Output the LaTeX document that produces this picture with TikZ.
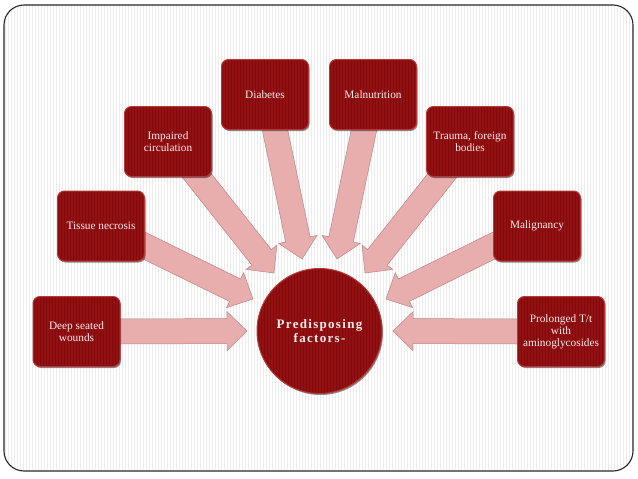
\documentclass[tikz,border=0pt]{standalone}
\usepackage{fontspec}
\setmainfont{Liberation Serif}
\usetikzlibrary{calc,shadows}
\definecolor{boxred}{RGB}{146,16,18}
\definecolor{boxedge}{RGB}{182,56,56}
\definecolor{stripe}{RGB}{128,10,12}
\definecolor{arrowpink}{RGB}{232,174,174}
\definecolor{arrowedge}{RGB}{188,132,132}
\definecolor{labeltext}{RGB}{252,236,236}
\definecolor{bgstripe}{RGB}{236,236,236}
\definecolor{framecol}{RGB}{40,40,40}
\pgfdeclarelayer{bglayer}
\pgfdeclarelayer{arrowlayer}
\pgfsetlayers{bglayer,arrowlayer,main}
\newcommand\fatarrow[2]{%
  \coordinate (fa-t) at ($(#1)!-14pt!(#2)$);
  \coordinate (fa-h) at ($(#2)!20pt!(#1)$);
  \filldraw[fatarrowstyle]
    ($(fa-t)!12.5pt!90:(#2)$) -- ($(fa-h)!12.5pt!-90:(fa-t)$) --
    ($(fa-h)!19.5pt!-90:(fa-t)$) -- (#2) -- ($(fa-h)!19.5pt!90:(fa-t)$) --
    ($(fa-h)!12.5pt!90:(fa-t)$) -- ($(fa-t)!12.5pt!-90:(#2)$) -- cycle;}
\begin{document}
\begin{tikzpicture}[x=1pt,y=-1pt,
  stripes/.style={path picture={\foreach \k in {1,4,...,130}
      \draw[stripe, line width=0.7pt] ($(path picture bounding box.north west)+(\k,0)$) -- ($(path picture bounding box.south west)+(\k,0)$);}},
  factor/.style={draw=boxedge, line width=1pt, fill=boxred, rounded corners=7pt,
    minimum width=87pt, minimum height=70pt, inner sep=2pt, align=center,
    text=labeltext, font=\fontsize{11.3}{12}\selectfont, stripes,
    drop shadow={shadow xshift=1pt, shadow yshift=-1.5pt, opacity=.45, fill=black}},
  hubnode/.style={circle, draw=boxedge, line width=1pt, fill=boxred, minimum size=125pt,
    inner sep=0pt, align=center, text=labeltext, stripes,
    font=\fontsize{13}{14}\selectfont\bfseries\addfontfeatures{LetterSpace=10},
    drop shadow={shadow xshift=1pt, shadow yshift=-1.5pt, opacity=.45, fill=black}},
  fatarrowstyle/.style={fill=arrowpink, draw=arrowedge, line width=0.5pt, line join=miter}]
\useasboundingbox (0,0) rectangle (638,479);
\begin{pgfonlayer}{bglayer}
  \fill[white] (0,0) rectangle (638,479);
  \begin{scope}
    \clip[rounded corners=20pt] (4,5) rectangle (633,471);
    \foreach \x in {5,8,...,633} \draw[bgstripe, line width=0.6pt] (\x,5) -- (\x,471);
  \end{scope}
\end{pgfonlayer}
\draw[framecol, line width=1.1pt, rounded corners=20pt] (4,5) rectangle (633,471);

\node[hubnode] (hub) at (319.5,331) {Predisposing\\factors-};
\node[factor] (deep) at (76.5,331.5) {Deep seated\\wounds};
\node[factor] (tissue) at (101,226) {Tissue necrosis};
\node[factor] (impaired) at (168,141.5) {Impaired\\circulation};
\node[factor] (diabetes) at (265,94.5) {Diabetes};
\node[factor] (malnut) at (373,94.5) {Malnutrition};
\node[factor] (trauma) at (470,141.5) {Trauma, foreign\\bodies};
\node[factor] (malig) at (537,226) {Malignancy};
\node[factor] (prolonged) at (561,331.5) {Prolonged T/t\\with\\aminoglycosides};

\coordinate (deep-t) at (deep.east);
\coordinate (tissue-t) at ($(tissue.east)+(0,20)$);
\coordinate (impaired-t) at ($(impaired.south)+(30,0)$);
\coordinate (diabetes-t) at ($(diabetes.south)+(10,0)$);
\coordinate (malnut-t) at ($(malnut.south)+(-9,0)$);
\coordinate (trauma-t) at ($(trauma.south)+(-29,0)$);
\coordinate (malig-t) at ($(malig.west)+(0,20)$);
\coordinate (prolonged-t) at (prolonged.west);

\coordinate (deep-h) at (247,331);
\coordinate (tissue-h) at (253,299);
\coordinate (impaired-h) at (274,273);
\coordinate (diabetes-h) at (302,259);
\coordinate (malnut-h) at (337,259);
\coordinate (trauma-h) at (365,273);
\coordinate (malig-h) at (386,299);
\coordinate (prolonged-h) at (393,331);

\begin{pgfonlayer}{arrowlayer}
  \foreach \n in {deep,tissue,impaired,diabetes,malnut,trauma,malig,prolonged}
    \fatarrow{\n-t}{\n-h};
\end{pgfonlayer}
\end{tikzpicture}
\end{document}
